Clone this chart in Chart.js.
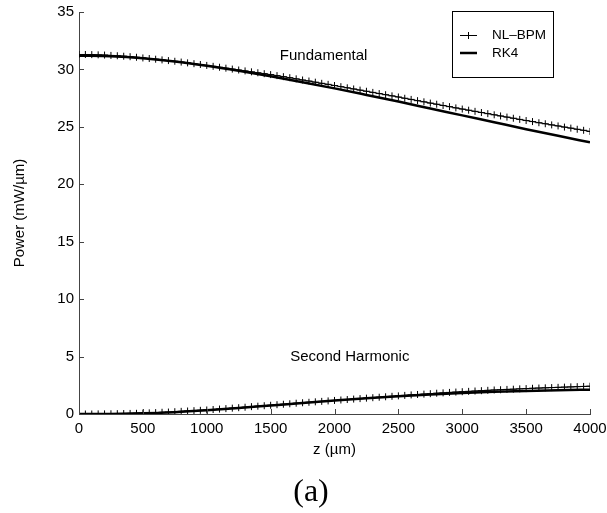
<!DOCTYPE html>
<html>
<head>
<meta charset="utf-8">
<script src="https://cdn.jsdelivr.net/npm/chart.js@4/dist/chart.umd.min.js"></script>
<style>
  html, body { margin: 0; padding: 0; background: #fff; }
  #wrap { width: 607px; height: 513px; }
</style>
</head>
<body>
<div id="wrap"><canvas id="powerChart" width="607" height="513"></canvas></div>
<script>
// Propagation distance (um) for the NL-BPM samples
const zBpm = [
  0, 50, 100, 150, 200, 250, 300, 350, 400, 450,
  500, 550, 600, 650, 700, 750, 800, 850, 900, 950,
  1000, 1050, 1100, 1150, 1200, 1250, 1300, 1350, 1400, 1450,
  1500, 1550, 1600, 1650, 1700, 1750, 1800, 1850, 1900, 1950,
  2000, 2050, 2100, 2150, 2200, 2250, 2300, 2350, 2400, 2450,
  2500, 2550, 2600, 2650, 2700, 2750, 2800, 2850, 2900, 2950,
  3000, 3050, 3100, 3150, 3200, 3250, 3300, 3350, 3400, 3450,
  3500, 3550, 3600, 3650, 3700, 3750, 3800, 3850, 3900, 3950,
  4000
];
const fundBpm = [
  31.30, 31.30, 31.29, 31.27, 31.25, 31.22, 31.19, 31.15, 31.11, 31.06,
  31.00, 30.95, 30.89, 30.83, 30.77, 30.71, 30.64, 30.57, 30.50, 30.43,
  30.35, 30.27, 30.19, 30.11, 30.03, 29.95, 29.87, 29.79, 29.71, 29.63,
  29.55, 29.46, 29.37, 29.28, 29.18, 29.08, 28.99, 28.89, 28.79, 28.70,
  28.60, 28.50, 28.40, 28.30, 28.20, 28.10, 28.00, 27.90, 27.80, 27.70,
  27.60, 27.49, 27.39, 27.28, 27.18, 27.07, 26.97, 26.86, 26.76, 26.65,
  26.55, 26.45, 26.35, 26.25, 26.15, 26.05, 25.95, 25.85, 25.75, 25.65,
  25.55, 25.46, 25.36, 25.27, 25.17, 25.08, 24.98, 24.89, 24.79, 24.70,
  24.60
];
const shBpm = [
  0.00, 0.00, 0.00, 0.01, 0.01, 0.02, 0.03, 0.04, 0.05, 0.06,
  0.08, 0.10, 0.12, 0.15, 0.17, 0.20, 0.23, 0.26, 0.29, 0.32,
  0.35, 0.39, 0.43, 0.47, 0.51, 0.55, 0.59, 0.64, 0.68, 0.72,
  0.76, 0.81, 0.85, 0.89, 0.94, 0.98, 1.02, 1.06, 1.10, 1.14,
  1.18, 1.22, 1.26, 1.30, 1.34, 1.38, 1.42, 1.46, 1.50, 1.54,
  1.58, 1.62, 1.66, 1.70, 1.73, 1.77, 1.81, 1.84, 1.88, 1.91,
  1.94, 1.97, 2.00, 2.03, 2.06, 2.09, 2.11, 2.14, 2.16, 2.19,
  2.21, 2.24, 2.26, 2.28, 2.30, 2.32, 2.34, 2.36, 2.38, 2.40,
  2.42
];

// RK4 reference curves
const zRk4 = [0, 250, 500, 750, 1000, 1250, 1500, 1750, 2000, 2250, 2500, 2750, 3000, 3250, 3500, 3750, 4000];
const fundRk4 = [31.20, 31.15, 30.98, 30.70, 30.32, 29.88, 29.40, 28.89, 28.35, 27.78, 27.20, 26.60, 26.00, 25.40, 24.80, 24.22, 23.65];
const shRk4 = [0.00, 0.01, 0.06, 0.16, 0.32, 0.52, 0.74, 0.96, 1.17, 1.37, 1.55, 1.70, 1.83, 1.93, 2.01, 2.07, 2.12];

const seriesLabels = ['NL\u2013BPM', 'RK4'];
const curveLabels = ['Fundamental', 'Second Harmonic'];
const xTitle = 'z (\u00b5m)';
const yTitle = 'Power (mW/\u00b5m)';
const panelLabel = '(a)';

const toPoints = (xs, ys) => xs.map((x, i) => ({ x: x, y: ys[i] }));

const sansFont = '"Liberation Sans", Arial, sans-serif';
const axisColor = '#444';

// ticks vers l'intérieur (style MATLAB)
const innerTicks = {
  id: 'innerTicks',
  afterDraw(chart) {
    const ctx = chart.ctx;
    const xs = chart.scales.x;
    const ys = chart.scales.y;
    const area = chart.chartArea;
    ctx.save();
    ctx.strokeStyle = axisColor;
    ctx.lineWidth = 1;
    ctx.beginPath();
    xs.ticks.forEach(t => {
      const px = Math.round(xs.getPixelForValue(t.value)) + 0.5;
      ctx.moveTo(px, area.bottom);
      ctx.lineTo(px, area.bottom - 5);
    });
    ys.ticks.forEach(t => {
      const py = Math.round(ys.getPixelForValue(t.value)) + 0.5;
      ctx.moveTo(area.left, py);
      ctx.lineTo(area.left + 5, py);
    });
    ctx.stroke();
    ctx.restore();
  }
};

// Texte, légende et étiquette du panneau
const decorPlugin = {
  id: 'decor',
  afterDraw(chart) {
    const ctx = chart.ctx;
    const xs = chart.scales.x;
    const ys = chart.scales.y;
    ctx.save();
    ctx.fillStyle = '#000';
    ctx.font = '15px ' + sansFont;
    ctx.textAlign = 'center';
    ctx.textBaseline = 'middle';
    ctx.fillText(curveLabels[0], xs.getPixelForValue(1915), ys.getPixelForValue(31.15));
    ctx.fillText(curveLabels[1], xs.getPixelForValue(2120), ys.getPixelForValue(5.0));

    // panel label
    ctx.font = '32px "Liberation Serif", "DejaVu Serif", serif';
    ctx.fillText(panelLabel, 311, 493);

    // legend box
    ctx.strokeStyle = '#000';
    ctx.lineWidth = 1;
    ctx.strokeRect(452.5, 11.5, 101, 66);
    ctx.font = '13.5px ' + sansFont;
    ctx.textAlign = 'left';
    ctx.fillText(seriesLabels[0], 492, 35);
    ctx.fillText(seriesLabels[1], 492, 53);
    ctx.beginPath();
    ctx.moveTo(460, 35.5);
    ctx.lineTo(477, 35.5);
    ctx.moveTo(468.5, 32);
    ctx.lineTo(468.5, 39);
    ctx.stroke();
    ctx.lineWidth = 2.5;
    ctx.beginPath();
    ctx.moveTo(460, 53);
    ctx.lineTo(477, 53);
    ctx.stroke();
    ctx.restore();
  }
};

const bpmStyle = {
  borderColor: '#000',
  backgroundColor: '#000',
  borderWidth: 1,
  pointStyle: 'cross',
  pointRadius: 3.5,
  pointBorderWidth: 1,
  pointBorderColor: '#000',
  tension: 0,
  fill: false
};
const rkStyle = {
  borderColor: '#000',
  borderWidth: 2.5,
  pointRadius: 0,
  cubicInterpolationMode: 'monotone',
  fill: false
};

const powerChart = new Chart(document.getElementById('powerChart').getContext('2d'), {
  type: 'line',
  data: {
    datasets: [
      Object.assign({ label: seriesLabels[1], data: toPoints(zRk4, fundRk4) }, rkStyle),
      Object.assign({ label: seriesLabels[1], data: toPoints(zRk4, shRk4) }, rkStyle),
      Object.assign({ label: seriesLabels[0], data: toPoints(zBpm, fundBpm) }, bpmStyle),
      Object.assign({ label: seriesLabels[0], data: toPoints(zBpm, shBpm) }, bpmStyle)
    ]
  },
  options: {
    responsive: false,
    animation: false,
    devicePixelRatio: 1,
    layout: { padding: { left: 0, right: 17, top: 12, bottom: 0 } },
    plugins: {
      legend: { display: false },
      tooltip: { enabled: false }
    },
    scales: {
      x: {
        type: 'linear',
        min: 0,
        max: 4000,
        afterFit: (scale) => {
          scale.height = 99;
          scale.paddingLeft = 0;
          scale.paddingRight = 0;
        },
        border: { display: true, color: axisColor, width: 1 },
        grid: { display: false, drawOnChartArea: false, drawTicks: false },
        ticks: {
          stepSize: 500,
          autoSkip: false,
          maxRotation: 0,
          padding: 6,
          color: '#000',
          font: { family: sansFont, size: 15 },
          callback: (v) => String(v)
        },
        title: {
          display: true,
          text: xTitle,
          color: '#000',
          font: { family: sansFont, size: 15 },
          padding: { top: 0, bottom: 54 }
        }
      },
      y: {
        min: 0,
        max: 35,
        afterFit: (scale) => {
          scale.width = 79;
          scale.paddingTop = 0;
          scale.paddingBottom = 0;
        },
        border: { display: true, color: axisColor, width: 1 },
        grid: { display: false, drawOnChartArea: false, drawTicks: false },
        ticks: {
          stepSize: 5,
          autoSkip: false,
          padding: 5,
          color: '#000',
          font: { family: sansFont, size: 15 },
          callback: (v) => String(v)
        },
        title: {
          display: true,
          text: yTitle,
          color: '#000',
          font: { family: sansFont, size: 15 },
          padding: { top: 11, bottom: 0 }
        }
      }
    }
  },
  plugins: [innerTicks, decorPlugin]
});
</script>
</body>
</html>
